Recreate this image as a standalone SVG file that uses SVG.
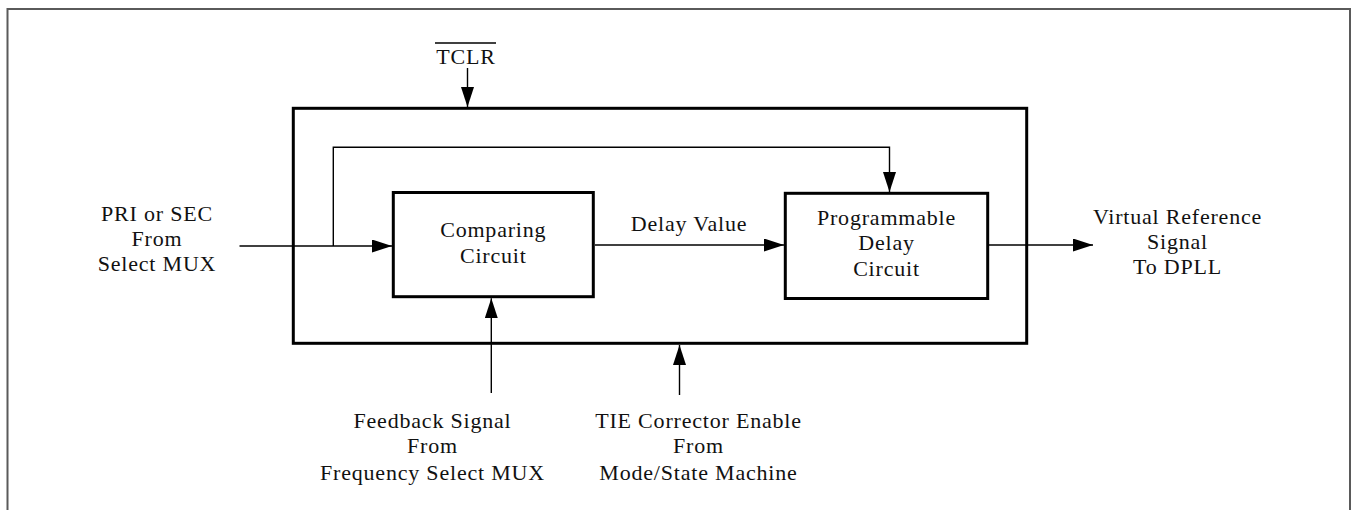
<svg xmlns="http://www.w3.org/2000/svg" width="1351" height="510" viewBox="0 0 1351 510">
  <style>
    .txt { font-family: "Liberation Serif", "Times New Roman", serif; font-size: 22px; letter-spacing: 0.8px; fill: #111; text-anchor: middle; }
    .box { fill: none; stroke: #000; stroke-width: 3; }
    .wire { fill: none; stroke: #000; stroke-width: 1.4; }
  </style>
  <defs>
    <marker id="arr" markerUnits="userSpaceOnUse" markerWidth="20" markerHeight="13" refX="20" refY="6.5" orient="auto">
      <path d="M0,0 L20,6.5 L0,13 Z" fill="#000"/>
    </marker>
  </defs>
  <rect x="0" y="0" width="1351" height="510" fill="#fff"/>
  <!-- outer frame -->
  <path d="M7.5,515 V9 H1350 V515" fill="none" stroke="#5a5a5a" stroke-width="2"/>

  <g id="tie-corrector">
    <rect class="box" x="293.3" y="108.3" width="733.4" height="235"/>
  </g>
  <g id="comparing-circuit">
    <rect class="box" x="393.3" y="192.5" width="200" height="104.2"/>
    <text class="txt" x="493.3" y="236.7">Comparing</text>
    <text class="txt" x="493.3" y="263.3">Circuit</text>
  </g>
  <g id="programmable-delay">
    <rect class="box" x="785.3" y="193.3" width="202.4" height="105.2"/>
    <text class="txt" x="886.5" y="224.8">Programmable</text>
    <text class="txt" x="886.5" y="250.3">Delay</text>
    <text class="txt" x="886.5" y="275.8">Circuit</text>
  </g>
  <g id="labels">
    <text class="txt" x="466" y="63.5">TCLR</text>
    <line x1="435" y1="43" x2="496" y2="43" stroke="#000" stroke-width="1.3"/>
    <text class="txt" x="157" y="220.7">PRI or SEC</text>
    <text class="txt" x="157" y="245.7">From</text>
    <text class="txt" x="157" y="270.7">Select MUX</text>
    <text class="txt" x="689" y="231">Delay Value</text>
    <text class="txt" x="1177.5" y="224.3">Virtual Reference</text>
    <text class="txt" x="1177.5" y="249.3">Signal</text>
    <text class="txt" x="1177.5" y="274.3">To DPLL</text>
    <text class="txt" x="432.5" y="428.3">Feedback Signal</text>
    <text class="txt" x="432.5" y="453">From</text>
    <text class="txt" x="432.5" y="479.5">Frequency Select MUX</text>
    <text class="txt" x="698.5" y="428.3">TIE Corrector Enable</text>
    <text class="txt" x="698.5" y="453">From</text>
    <text class="txt" x="698.5" y="479.5">Mode/State Machine</text>
  </g>
  <g id="connectors">
    <path class="wire" d="M467.5,68 V107" marker-end="url(#arr)"/>
    <path class="wire" d="M239.5,246 H392" marker-end="url(#arr)"/>
    <path class="wire" d="M333.3,246 V147.3 H889.5 V192" marker-end="url(#arr)"/>
    <path class="wire" d="M595,245 H784" marker-end="url(#arr)"/>
    <path class="wire" d="M989,245 H1093" marker-end="url(#arr)"/>
    <path class="wire" d="M491.3,393 V298.2" marker-end="url(#arr)"/>
    <path class="wire" d="M679.5,395 V345" marker-end="url(#arr)"/>
  </g>
</svg>
